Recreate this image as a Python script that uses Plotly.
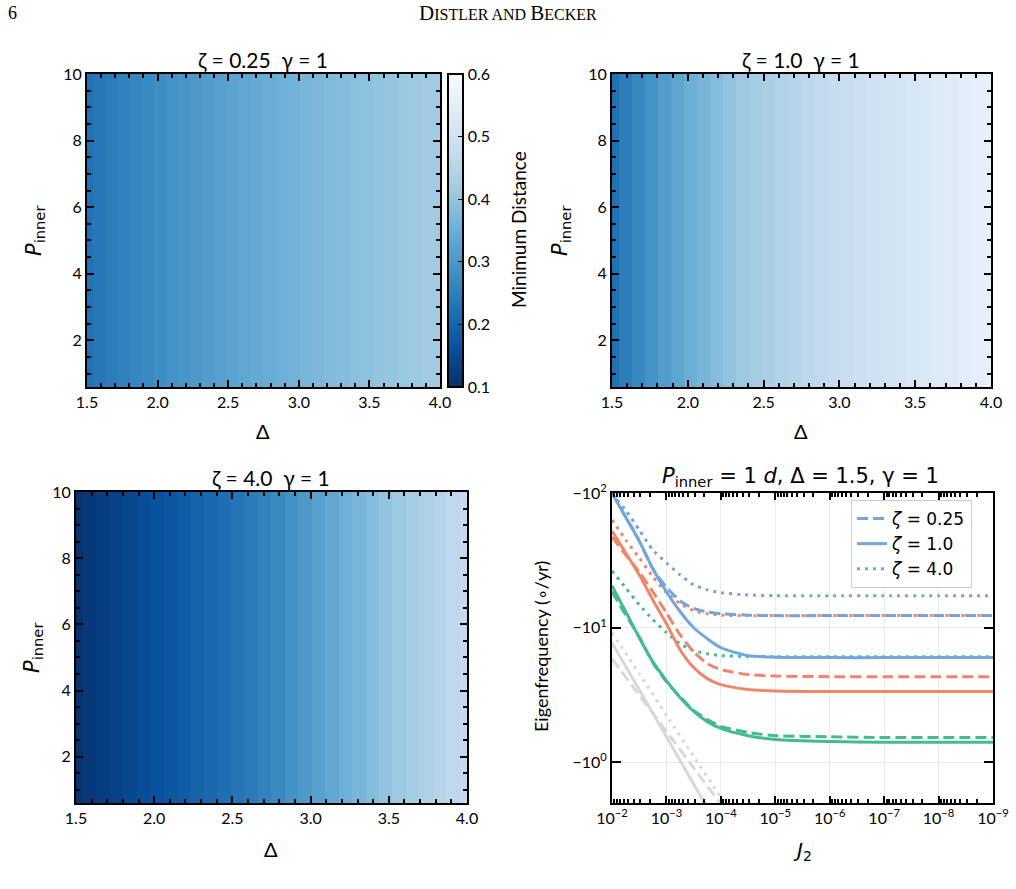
import plotly.graph_objects as go

# ---------------- data ----------------
DELTA = [1.500, 1.586, 1.672, 1.759, 1.845, 1.931, 2.017, 2.103, 2.190, 2.276,
         2.362, 2.448, 2.534, 2.621, 2.707, 2.793, 2.879, 2.966, 3.052, 3.138,
         3.224, 3.310, 3.397, 3.483, 3.569, 3.655, 3.741, 3.828, 3.914, 4.000]
P_INNER_EDGES = [0.6, 10.0]

MIN_DIST_Z025 = [0.225, 0.235, 0.245, 0.255, 0.265, 0.273, 0.281, 0.289, 0.297, 0.305,
                 0.312, 0.319, 0.326, 0.333, 0.340, 0.347, 0.353, 0.359, 0.365, 0.371,
                 0.377, 0.383, 0.388, 0.393, 0.398, 0.403, 0.408, 0.413, 0.417, 0.421]
MIN_DIST_Z1 = [0.225, 0.248, 0.270, 0.290, 0.310, 0.330, 0.350, 0.366, 0.382, 0.397,
               0.410, 0.422, 0.433, 0.443, 0.452, 0.461, 0.469, 0.477, 0.484, 0.491,
               0.498, 0.505, 0.512, 0.518, 0.525, 0.532, 0.539, 0.546, 0.553, 0.560]
MIN_DIST_Z4 = [0.105, 0.115, 0.125, 0.135, 0.145, 0.155, 0.165, 0.175, 0.186, 0.197,
               0.208, 0.219, 0.230, 0.243, 0.257, 0.272, 0.288, 0.304, 0.320, 0.336,
               0.352, 0.367, 0.382, 0.396, 0.410, 0.423, 0.436, 0.449, 0.461, 0.473]

J2 = [1e-2, 5.62e-3, 3.16e-3, 1.78e-3, 1e-3, 5.62e-4, 3.16e-4, 1.78e-4, 1e-4,
      3.16e-5, 1e-5, 1e-6, 1e-7, 1e-8, 1e-9]
# eigenfrequencies (deg/yr), negative
BLUE_Z025 = [-100, -66.4, -44.1, -27.4, -20.0, -15.8, -13.9, -13.1, -12.7, -12.4, -12.3, -12.3, -12.3, -12.3, -12.3]
BLUE_Z1 = [-100, -66.4, -44.1, -27.4, -18.5, -13.2, -10.0, -8.3, -7.1, -6.2, -6.05, -6.0, -6.0, -6.0, -6.0]
BLUE_Z4 = [-98.4, -74.8, -53.2, -37.8, -30.3, -24.7, -20.8, -19.1, -18.2, -17.5, -17.3, -17.3, -17.3, -17.3, -17.3]
ORANGE_Z025 = [-47.2, -34.8, -26.0, -18.5, -12.9, -8.87, -6.64, -5.41, -4.89, -4.49, -4.38, -4.33, -4.33, -4.33, -4.33]
ORANGE_Z1 = [-52.4, -36.0, -24.7, -16.1, -10.7, -6.87, -5.06, -4.19, -3.78, -3.48, -3.39, -3.36, -3.36, -3.36, -3.36]
ORANGE_Z4 = [-63.1, -44.9, -33.0, -23.9, -18.2, -15.1, -13.4, -12.7, -12.4, -12.3, -12.3, -12.3, -12.3, -12.3, -12.3]
GREEN_Z025 = [-18.5, -12.5, -8.57, -5.51, -3.98, -3.08, -2.43, -2.08, -1.85, -1.67, -1.58, -1.55, -1.53, -1.53, -1.53]
GREEN_Z1 = [-20.5, -13.2, -8.43, -5.6, -4.05, -3.03, -2.39, -2.01, -1.79, -1.58, -1.48, -1.43, -1.41, -1.41, -1.41]
GREEN_Z4 = [-26.4, -19.8, -14.8, -11.5, -9.18, -7.61, -6.76, -6.41, -6.21, -6.12, -6.1, -6.1, -6.1, -6.1, -6.1]

J2_GRAY = [1e-2, 3.16e-3, 1e-3, 3.16e-4, 1e-4, 3.16e-5]
GRAY_Z025 = [-5.89, -3.16, -1.70, -0.91, -0.49, -0.26]
GRAY_Z1 = [-7.74, -3.47, -1.55, -0.69, -0.31, -0.14]
GRAY_Z4 = [-9.18, -4.57, -2.24, -1.11, -0.55, -0.27]

# ---------------- style ----------------
FONT = "Lato"
MATH = "DejaVu Sans"
BLUES_R = [[0.0, "rgb(8,48,107)"], [0.125, "rgb(8,81,156)"], [0.25, "rgb(33,113,181)"],
           [0.375, "rgb(66,146,198)"], [0.5, "rgb(107,174,214)"], [0.625, "rgb(158,202,225)"],
           [0.75, "rgb(198,219,239)"], [0.875, "rgb(222,235,247)"], [1.0, "rgb(247,251,255)"]]
C_BLUE = "rgb(114,166,219)"
C_ORANGE = "rgb(239,134,106)"
C_GREEN = "rgb(67,186,147)"
C_GRAY = "rgb(216,216,216)"

W, H = 1016, 889


def px_x(p):
    return p / W


def px_y(p):
    return 1 - p / H


fig = go.Figure()

# heatmaps
panels = [
    (MIN_DIST_Z025, "x", "y", True),
    (MIN_DIST_Z1, "x2", "y2", False),
    (MIN_DIST_Z4, "x3", "y3", False),
]
for vals, xa, ya, show in panels:
    fig.add_trace(go.Heatmap(
        x=DELTA, y=P_INNER_EDGES, z=[vals], xaxis=xa, yaxis=ya,
        colorscale=BLUES_R, zmin=0.1, zmax=0.6, showscale=show,
        colorbar=dict(
            x=px_x(448), xanchor="left", xpad=0, thickness=15,
            y=px_y(230.5), yanchor="middle", len=313 / H, lenmode="fraction", ypad=0,
            outlinewidth=2, outlinecolor="black",
            tickvals=[0.1, 0.2, 0.3, 0.4, 0.5, 0.6], ticktext=["0.1", "0.2", "0.3", "0.4", "0.5", "0.6"],
            ticks="inside", ticklen=6, tickcolor="black",
            tickfont=dict(family=FONT, size=16, color="black"),
        ) if show else None,
        hoverinfo="skip",
    ))

# line panel
def add_line(x, y, color, dash, name=None):
    fig.add_trace(go.Scatter(
        x=x, y=[-v for v in y], mode="lines", xaxis="x4", yaxis="y4",
        line=dict(color=color, width=3, dash=dash, shape="spline", smoothing=0.6),
        name=name, showlegend=name is not None, hoverinfo="skip",
    ))

DASH = "11px,5px"
DOT = "3px,5px"
add_line(J2_GRAY, GRAY_Z025, C_GRAY, DASH)
add_line(J2_GRAY, GRAY_Z1, C_GRAY, "solid")
add_line(J2_GRAY, GRAY_Z4, C_GRAY, DOT)
add_line(J2, GREEN_Z025, C_GREEN, DASH)
add_line(J2, GREEN_Z1, C_GREEN, "solid")
add_line(J2, GREEN_Z4, C_GREEN, DOT)
add_line(J2, ORANGE_Z025, C_ORANGE, DASH)
add_line(J2, ORANGE_Z1, C_ORANGE, "solid")
add_line(J2, ORANGE_Z4, C_ORANGE, DOT)
add_line(J2, BLUE_Z025, C_BLUE, DASH, "<i>ζ</i> = 0.25")
add_line(J2, BLUE_Z1, C_BLUE, "solid", "<i>ζ</i> = 1.0")
add_line(J2, BLUE_Z4, C_BLUE, DOT, "<i>ζ</i> = 4.0")

base_axis = dict(
    showline=True, linecolor="black", linewidth=2, mirror="allticks",
    ticks="inside", ticklen=7, tickwidth=1.5, tickcolor="black",
    showgrid=False, zeroline=False, automargin=False,
    tickfont=dict(family=FONT, size=16, color="black"),
)

def heat_x(domain, anchor):
    return dict(base_axis, domain=domain, anchor=anchor, range=[1.5, 4.0],
                tickmode="array", tickvals=[1.5, 2.0, 2.5, 3.0, 3.5, 4.0],
                ticktext=["1.5", "2.0", "2.5", "3.0", "3.5", "4.0"],
                minor=dict(ticks="inside", ticklen=4, tickcolor="black", dtick=0.1, tick0=1.5))

def heat_y(domain, anchor):
    return dict(base_axis, domain=domain, anchor=anchor, range=[0.6, 10.0],
                tickmode="array", tickvals=[2, 4, 6, 8, 10], ticktext=["2", "4", "6", "8", "10"],
                minor=dict(ticks="inside", ticklen=4, tickcolor="black", dtick=0.5, tick0=0))

top_dom = [px_y(387), px_y(74)]
bot_dom = [px_y(803), px_y(493)]

fig.update_layout(
    width=W, height=H, margin=dict(l=0, r=0, t=0, b=0, autoexpand=False),
    paper_bgcolor="white", plot_bgcolor="white",
    font=dict(family=FONT, color="black"),
    xaxis=heat_x([px_x(87), px_x(440)], "y"),
    yaxis=heat_y(top_dom, "x"),
    xaxis2=heat_x([px_x(612), px_x(991)], "y2"),
    yaxis2=heat_y(top_dom, "x2"),
    xaxis3=heat_x([px_x(76), px_x(467)], "y3"),
    yaxis3=heat_y([px_y(803), px_y(492)], "x3"),
    xaxis4=dict(base_axis, domain=[px_x(612), px_x(993)], anchor="y4", type="log",
                range=[-2, -9], showgrid=True, gridcolor="rgb(234,234,234)", gridwidth=1,
                tickmode="array",
                tickvals=[1e-2, 1e-3, 1e-4, 1e-5, 1e-6, 1e-7, 1e-8, 1e-9],
                ticktext=["10<sup>−%d</sup>" % k for k in range(2, 10)],
                minor=dict(ticks="inside", ticklen=4, tickcolor="black", dtick="D1", showgrid=False)),
    yaxis4=dict(base_axis, domain=bot_dom, anchor="x4", type="log",
                range=[-0.301, 2], showgrid=True, gridcolor="rgb(234,234,234)", gridwidth=1,
                ticklen=9, tickmode="array", tickvals=[1, 10, 100],
                ticktext=["−10<sup>0</sup>", "−10<sup>1</sup>", "−10<sup>2</sup>"]),
    legend=dict(x=px_x(851), y=px_y(500), xanchor="left", yanchor="top",
                bgcolor="white", bordercolor="rgb(205,205,205)", borderwidth=1,
                font=dict(family=MATH, size=17, color="black"), tracegroupgap=0),
    showlegend=True,
)

ann = []

def text(x, y, s, size, angle=0, family=FONT, xanchor="center", yanchor="middle"):
    ann.append(dict(x=px_x(x), y=px_y(y), xref="paper", yref="paper", text=s, showarrow=False,
                    font=dict(family=family, size=size, color="black"), textangle=angle,
                    xanchor=xanchor, yanchor=yanchor))

# page header
text(12, 13, "6", 18, family="Liberation Serif")
text(508, 13, "D<span style='font-size:16px'>ISTLER AND </span>B<span style='font-size:16px'>ECKER</span>",
     21, family="Liberation Serif")

# panel titles
text(263, 59, "ζ = 0.25  γ = 1", 21)
text(801, 59, "ζ = 1.0  γ = 1", 21)
text(271, 477, "ζ = 4.0  γ = 1", 21)
text(800, 477, "<i>P</i><sub>inner</sub> = 1 <i>d</i>, Δ = 1.5, γ = 1", 21, family=MATH)

# colorbar title
text(518, 230, "Minimum Distance", 19, angle=-90)

# axis titles
text(263, 431, "Δ", 20)
text(801, 431, "Δ", 20)
text(271, 849, "Δ", 20)
text(802, 851, "<i>J</i><sub>2</sub>", 20, family=MATH)
text(35, 231, "<i>P</i><sub>inner</sub>", 21, angle=-90, family=MATH)
text(561, 231, "<i>P</i><sub>inner</sub>", 21, angle=-90, family=MATH)
text(33, 648, "<i>P</i><sub>inner</sub>", 21, angle=-90, family=MATH)
text(541, 647, "Eigenfrequency (∘/yr)", 18, angle=-90)

fig.update_layout(annotations=ann)

fig.write_html("out.html")
